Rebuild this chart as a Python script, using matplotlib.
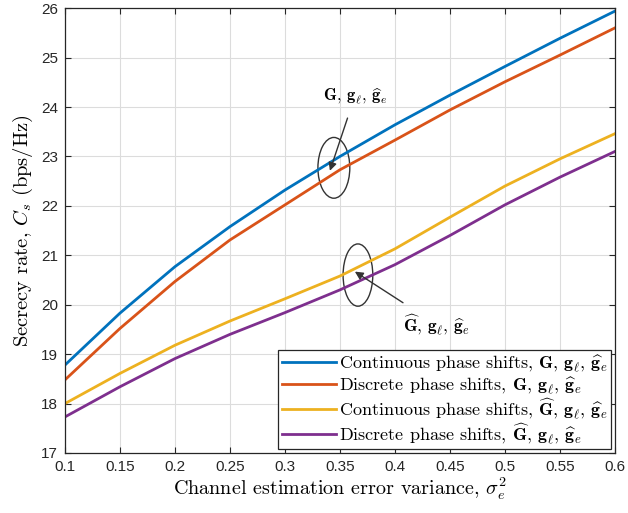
import matplotlib
matplotlib.use("Agg")
import matplotlib.pyplot as plt
from matplotlib.patches import Ellipse

plt.rcParams['mathtext.fontset'] = 'cm'

# Channel estimation error variance
sigma2 = [0.10, 0.15, 0.20, 0.25, 0.30, 0.35, 0.40, 0.45, 0.50, 0.55, 0.60]

# Secrecy rate (bps/Hz)
cont_perfect = [18.78, 19.83, 20.77, 21.58, 22.32, 23.00, 23.64, 24.24, 24.82, 25.39, 25.94]
disc_perfect = [18.48, 19.52, 20.47, 21.31, 22.02, 22.73, 23.33, 23.94, 24.51, 25.05, 25.60]
cont_est = [18.00, 18.61, 19.18, 19.67, 20.12, 20.58, 21.13, 21.77, 22.40, 22.95, 23.46]
disc_est = [17.73, 18.34, 18.91, 19.40, 19.84, 20.30, 20.81, 21.40, 22.02, 22.58, 23.10]

labels = [
    r"Continuous phase shifts, $\mathbf{G}$, $\mathbf{g}_\ell$, $\widehat{\mathbf{g}}_e$",
    r"Discrete phase shifts, $\mathbf{G}$, $\mathbf{g}_\ell$, $\widehat{\mathbf{g}}_e$",
    r"Continuous phase shifts, $\widehat{\mathbf{G}}$, $\mathbf{g}_\ell$, $\widehat{\mathbf{g}}_e$",
    r"Discrete phase shifts, $\widehat{\mathbf{G}}$, $\mathbf{g}_\ell$, $\widehat{\mathbf{g}}_e$",
]
colors = ['#0072BD', '#D95319', '#EDB120', '#7E2F8E']

xticks = [0.1, 0.15, 0.2, 0.25, 0.3, 0.35, 0.4, 0.45, 0.5, 0.55, 0.6]
xticklabels = ['0.1', '0.15', '0.2', '0.25', '0.3', '0.35', '0.4', '0.45', '0.5', '0.55', '0.6']
yticks = list(range(17, 27))

fig = plt.figure(figsize=(6.28, 5.13), dpi=100)
ax = fig.add_axes([0.1035, 0.117, 0.8755, 0.867])

for ys, c, lab in zip([cont_perfect, disc_perfect, cont_est, disc_est], colors, labels):
    ax.plot(sigma2, ys, color=c, lw=2.0, label=lab)

ax.set_xlim(0.1, 0.6)
ax.set_ylim(17, 26)
ax.set_xticks(xticks)
ax.set_xticklabels(xticklabels)
ax.set_yticks(yticks)
ax.grid(True, color='#dcdcdc', lw=0.8)
ax.set_axisbelow(True)
ax.tick_params(direction='in', top=True, right=True, length=4, width=0.8,
               labelsize=11, colors='#262626', pad=5)
for lab in ax.get_xticklabels() + ax.get_yticklabels():
    lab.set_family('Liberation Sans')
for s in ax.spines.values():
    s.set_color('#262626')
    s.set_linewidth(0.9)

ax.set_xlabel(r"Channel estimation error variance, $\sigma_e^2$",
              family='cmr10', fontsize=14.5, labelpad=1)
ax.set_ylabel(r"Secrecy rate, $C_s$ (bps/Hz)", family='cmr10', fontsize=14.8, labelpad=4)

# Group markers for the two channel-knowledge cases
ax.add_patch(Ellipse((0.3445, 22.77), 0.029, 1.23, fill=False, ec='#333333', lw=1.0))
ax.annotate(r"$\mathbf{G}$, $\mathbf{g}_\ell$, $\widehat{\mathbf{g}}_e$",
            xy=(0.3409, 22.71), xytext=(0.3636, 24.22), family='cmr10', fontsize=12,
            ha='center', va='center',
            arrowprops=dict(arrowstyle='-|>', color='#333333', lw=1.0,
                            shrinkA=7, shrinkB=0, mutation_scale=12))

ax.add_patch(Ellipse((0.3664, 20.60), 0.027, 1.26, fill=False, ec='#333333', lw=1.0))
ax.annotate(r"$\widehat{\mathbf{G}}$, $\mathbf{g}_\ell$, $\widehat{\mathbf{g}}_e$",
            xy=(0.3636, 20.67), xytext=(0.438, 19.60), family='cmr10', fontsize=12.5,
            ha='center', va='center',
            arrowprops=dict(arrowstyle='-|>', color='#333333', lw=1.0,
                            shrinkA=9, shrinkB=0, mutation_scale=12))

leg = ax.legend(loc='lower right', prop={'family': 'cmr10', 'size': 13},
                handlelength=3.0, handletextpad=0.15, labelspacing=0.02,
                borderpad=0.2, borderaxespad=0.2, fancybox=False, framealpha=1,
                edgecolor='#262626')
leg.get_frame().set_linewidth(0.9)

fig.savefig('out.png', dpi=100)
